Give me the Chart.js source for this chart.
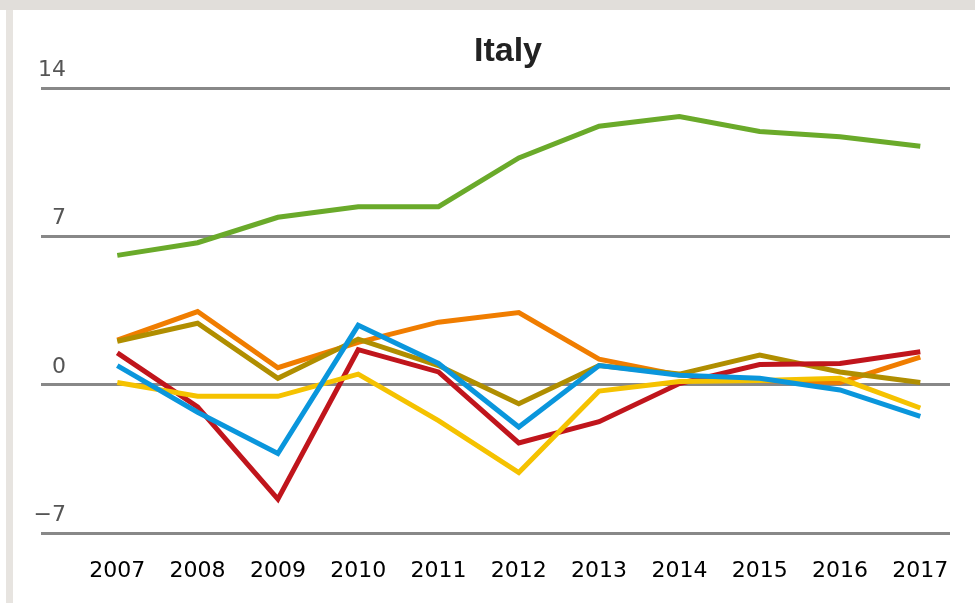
<!DOCTYPE html>
<html>
<head>
<meta charset="utf-8">
<script src="https://cdn.jsdelivr.net/npm/chart.js@4/dist/chart.umd.min.js"></script>
<style>
  html, body { margin: 0; padding: 0; background: #fff; }
  #wrap { width: 975px; height: 603px; }
</style>
</head>
<body>
<div id="wrap"><canvas id="c"></canvas></div>
<script>
// DATA
const years = [2007, 2008, 2009, 2010, 2011, 2012, 2013, 2014, 2015, 2016, 2017];
const yTicks = [-7, 0, 7, 14];

const green  = [6.1, 6.7, 7.9, 8.4, 8.4, 10.7, 12.2, 12.65, 11.95, 11.7, 11.25];
const orange = [2.1, 3.45, 0.8, 2.0, 2.95, 3.4, 1.2, 0.45, 0.2, 0.1, 1.3];
const olive  = [2.05, 2.9, 0.3, 2.15, 0.9, -0.9, 0.9, 0.5, 1.4, 0.6, 0.1];
const red    = [1.5, -1.05, -5.4, 1.65, 0.6, -2.75, -1.75, 0.05, 0.95, 1.0, 1.55];
const blue   = [0.9, -1.3, -3.25, 2.8, 1.0, -2.0, 0.9, 0.45, 0.3, -0.25, -1.5];
const yellow = [0.1, -0.55, -0.55, 0.5, -1.7, -4.15, -0.3, 0.15, 0.2, 0.3, -1.1];

function line(values, color, order) {
    return {
        data: years.map((y, i) => ({x: y, y: values[i]})),
        borderColor: color,
        borderWidth: 5,
        pointRadius: 0,
        tension: 0,
        fill: false,
        order: order
    };
}

// background frame + title + y labels
const decor = {
    id: "decor",
    beforeDraw(chart) {
        const ctx = chart.ctx;
        ctx.save();
        ctx.fillStyle = "#fff";
        ctx.fillRect(0, 0, chart.width, chart.height);
        ctx.fillStyle = "#e1deda";
        ctx.fillRect(0, 0, chart.width, 10);
        ctx.fillStyle = "#e7e4e0";
        ctx.fillRect(6, 10, 7, chart.height - 10);
        ctx.restore();
    },
    afterDraw(chart) {
        const ctx = chart.ctx;
        const ys = chart.scales.y;
        ctx.save();
        ctx.fillStyle = "#222";
        ctx.font = "bold 34px 'Liberation Sans Narrow', 'Arial Narrow', sans-serif";
        ctx.textAlign = "center";
        ctx.textBaseline = "alphabetic";
        ctx.fillText("Italy", 508, 61);

        ctx.fillStyle = "#555";
        ctx.font = "22px 'DejaVu Sans'";
        ctx.textAlign = "right";
        yTicks.forEach(v => {
            const label = v < 0 ? "\u2212" + Math.abs(v) : String(v);
            ctx.fillText(label, 66, ys.getPixelForValue(v) - 12);
        });
        ctx.restore();
    }
};

new Chart(document.getElementById("c"), {
    type: "line",
    data: {
        datasets: [
            line(blue, "#0a96dc", 1),
            line(yellow, "#f5c200", 2),
            line(red, "#c0151c", 3),
            line(olive, "#b08e00", 4),
            line(orange, "#f07d00", 5),
            line(green, "#6aaa2a", 6)
        ]
    },
    options: {
        responsive: true,
        maintainAspectRatio: false,
        animation: false,
        layout: { padding: { left: 41, right: 25, top: 88, bottom: 16 } },
        plugins: {
            legend: { display: false },
            title: { display: false },
            tooltip: { enabled: false }
        },
        scales: {
            x: {
                type: "linear",
                min: 2006.05,
                max: 2017.37,
                afterBuildTicks: axis => { axis.ticks = years.map(v => ({value: v})); },
                afterFit: axis => { axis.height = 54; },
                grid: { display: false, drawTicks: false },
                border: { display: false },
                ticks: {
                    padding: 25,
                    color: "#000",
                    font: { family: "'DejaVu Sans'", size: 22 },
                    maxRotation: 0,
                    autoSkip: false,
                    callback: v => String(v)
                }
            },
            y: {
                min: -7,
                max: 14,
                afterBuildTicks: axis => { axis.ticks = yTicks.map(v => ({value: v})); },
                grid: { color: "#888", lineWidth: 3, drawTicks: false },
                border: { display: false },
                ticks: { display: false }
            }
        }
    },
    plugins: [decor]
});
</script>
</body>
</html>
